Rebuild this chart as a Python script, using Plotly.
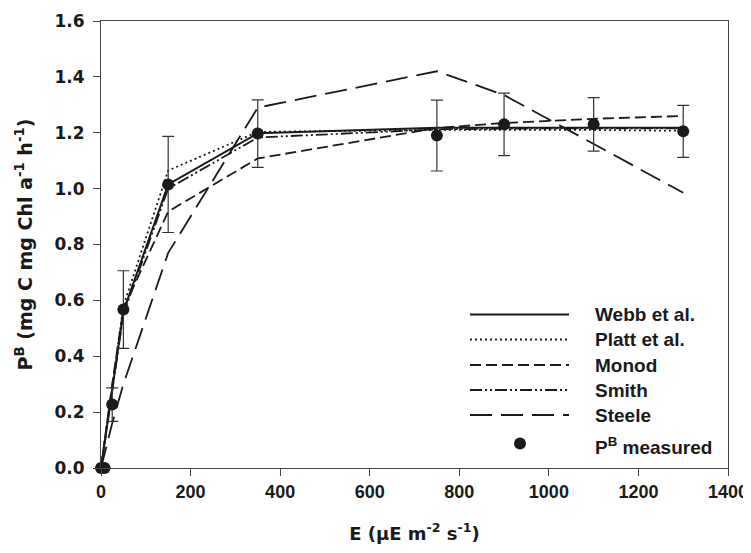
import plotly.graph_objects as go

# ---- data ----
E = [0, 8, 25, 50, 150, 350, 750, 900, 1100, 1300]
measured = [0, 0, 0.227, 0.567, 1.015, 1.197, 1.19, 1.23, 1.23, 1.205]
measured_err = [0, 0, 0.06, 0.139, 0.172, 0.121, 0.127, 0.112, 0.096, 0.093]
webb = [0, 0.09, 0.27, 0.56, 1.015, 1.198, 1.218, 1.218, 1.218, 1.218]
platt = [0, 0.09, 0.28, 0.58, 1.065, 1.203, 1.21, 1.21, 1.21, 1.207]
monod = [0, 0.10, 0.30, 0.57, 0.918, 1.108, 1.217, 1.235, 1.25, 1.26]
smith = [0, 0.09, 0.27, 0.55, 1.0, 1.183, 1.212, 1.215, 1.216, 1.216]
steele = [0, 0.05, 0.16, 0.30, 0.77, 1.29, 1.42, 1.335, 1.16, 0.985]

series_names = ["Webb et al.", "Platt et al.", "Monod", "Smith", "Steele"]
x_ticks = [0, 200, 400, 600, 800, 1000, 1200, 1400]
y_ticks = [0.0, 0.2, 0.4, 0.6, 0.8, 1.0, 1.2, 1.4, 1.6]

INK = "#1a1a1a"
AXIS = "#444444"
dashes = ["solid", "2px,3px", "11px,5px", "12px,3px,2px,3px,2px,3px", "22px,9px"]
widths = [2, 1.8, 1.8, 1.8, 1.8]
series = [webb, platt, monod, smith, steele]

fig = go.Figure()
for name, ys, d, w in zip(series_names, series, dashes, widths):
    fig.add_trace(go.Scatter(x=E, y=ys, mode="lines", name=name, showlegend=False,
                             line=dict(color=INK, width=w, dash=d)))

fig.add_trace(go.Scatter(
    x=E, y=measured, mode="markers", name="PB measured", showlegend=False,
    marker=dict(color=INK, size=12),
    error_y=dict(type="data", array=measured_err, visible=True, color="#333333",
                 thickness=1.2, width=6),
    cliponaxis=False,
))

# The page body has an 8px default margin, so the figure is offset by (8, 8).
OFF = 8
FIG_W, FIG_H = 751 - OFF, 553 - OFF
# target plot area in window pixels
L, R, T, B = 101, 728, 21, 468
W, H = R - L, B - T
def px(x):
    return (x - L) / W
def py(y):
    return (B - y) / H

rows = [314.5, 339.5, 365, 390, 415]
shapes = []
annotations = []
leg_font = dict(family="Liberation Sans, Arial, sans-serif", size=19, color=INK, weight="bold")
for name, d, w, ry in zip(series_names, dashes, widths, rows):
    shapes.append(dict(type="line", xref="paper", yref="paper",
                       x0=px(470), x1=px(569), y0=py(ry), y1=py(ry),
                       line=dict(color=INK, width=w, dash=d)))
    annotations.append(dict(xref="paper", yref="paper", x=px(593), y=py(ry),
                            xanchor="left", yanchor="middle", text=name,
                            showarrow=False, font=leg_font))
shapes.append(dict(type="circle", xref="paper", yref="paper",
                   xsizemode="pixel", ysizemode="pixel",
                   xanchor=px(520), yanchor=py(443.5),
                   x0=-6, x1=6, y0=-6, y1=6,
                   fillcolor=INK, line=dict(color=INK, width=0)))
annotations.append(dict(xref="paper", yref="paper", x=px(593), y=py(446),
                        xanchor="left", yanchor="middle",
                        text="P<sup>B</sup> measured", showarrow=False, font=leg_font))

fig.update_layout(
    width=FIG_W, height=FIG_H,
    margin=dict(l=L - OFF, r=751 - R, t=T - OFF, b=553 - B),
    paper_bgcolor="white", plot_bgcolor="white",
    showlegend=False,
    shapes=shapes, annotations=annotations,
    xaxis=dict(
        range=[0, 1400], tickvals=x_ticks, ticktext=[str(v) for v in x_ticks],
        ticks="outside", ticklen=7, tickwidth=1, tickcolor=AXIS,
        showline=True, linecolor=AXIS, linewidth=1.2, mirror=True,
        showgrid=False, zeroline=False, automargin=False,
        tickfont=dict(family="Liberation Sans, Arial, sans-serif", size=18, color=INK, weight="bold"),
        title=dict(text="E (μE m<sup>-2</sup> s<sup>-1</sup>)", standoff=26,
                   font=dict(family="DejaVu Sans, sans-serif", size=18, color=INK, weight="bold")),
    ),
    yaxis=dict(
        range=[0, 1.6], tickvals=y_ticks, ticktext=[f"{v:.1f}" for v in y_ticks],
        ticks="outside", ticklen=7, tickwidth=1, tickcolor=AXIS,
        showline=True, linecolor=AXIS, linewidth=1.2, mirror=True,
        showgrid=False, zeroline=False, automargin=False, ticklabelstandoff=5,
        tickfont=dict(family="DejaVu Sans, sans-serif", size=17, color=INK, weight="bold"),
        title=dict(text="P<sup>B</sup> (mg C mg Chl a<sup>-1</sup> h<sup>-1</sup>)", standoff=16,
                   font=dict(family="DejaVu Sans, sans-serif", size=19, color=INK, weight="bold")),
    ),
)

fig.write_html("out.html")
